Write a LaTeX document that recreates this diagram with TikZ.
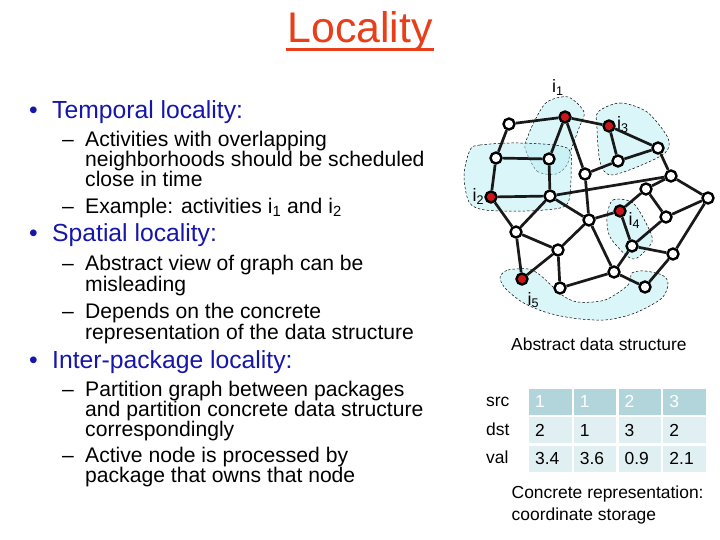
\documentclass[tikz,border=0pt]{standalone}
\usepackage{fontspec}
\setmainfont{Liberation Sans}
\usepackage{xcolor}
\usetikzlibrary{positioning}

\definecolor{titlered}{RGB}{232,62,26}
\definecolor{headblue}{RGB}{22,22,170}
\definecolor{blobcyan}{RGB}{185,238,245}
\definecolor{actred}{RGB}{205,22,28}
\definecolor{cellhead}{RGB}{178,213,220}
\definecolor{cellbody}{RGB}{224,239,241}

\begin{document}
\begin{tikzpicture}[x=1bp, y=-1bp,
  vtx/.style={circle, draw=black, line width=2.4bp, fill=white, minimum size=11bp, inner sep=0pt},
  act/.style={vtx, fill=actred},
  link/.style={line width=2.7bp, black!90},
  blob/.style={draw=black, line width=0.5bp, dash pattern=on 2.5bp off 2bp, fill=blobcyan, fill opacity=0.5},
  lbl/.style={anchor=base west, inner sep=0pt, font=\fontsize{18}{18}\selectfont},
  main/.style={anchor=base west, inner sep=0pt, text=headblue, font=\fontsize{24.8}{24.8}\selectfont},
  sub/.style={anchor=base west, inner sep=0pt, font=\fontsize{21.2}{21.2}\selectfont},
  small/.style={anchor=base west, inner sep=0pt, font=\fontsize{17.5}{17.5}\selectfont},
  cell/.style={minimum width=42.5bp, minimum height=26bp, inner xsep=6bp, text width=30.5bp, align=left, font=\fontsize{17.5}{17.5}\selectfont},
  headcell/.style={cell, fill=cellhead, text=white},
  bodycell/.style={cell, fill=cellbody}]
  \fill[white] (0,0) rectangle (720,540);
  \useasboundingbox (0,0) rectangle (720,540);

  % title
  \node[anchor=base, inner sep=0pt, text=titlered, font=\fontsize{43}{43}\selectfont] (title) at (360,43) {Locality};
  \draw[titlered, line width=2.2bp] ([xshift=-1.5bp, yshift=-6.5bp]title.base west) -- ([xshift=1.5bp, yshift=-6.5bp]title.base east);

  % bullets
  \node[main] (tmp) at (29,118.3) {\makebox[23bp][l]{\textbullet}Temporal locality:};
  \node[sub] (tmp1) at (62,146.7) {\makebox[23bp][l]{\textendash}Activities with overlapping};
  \node[sub] (tmp1b) at (85,166.7) {neighborhoods should be scheduled};
  \node[sub] (tmp1c) at (85,186.7) {close in time};
  \node[sub] (tmp2) at (62,213.3) {\makebox[23bp][l]{\textendash}Example: activities i\textsubscript{1} and i\textsubscript{2}};
  \node[main] (spa) at (29,241.7) {\makebox[23bp][l]{\textbullet}Spatial locality:};
  \node[sub] (spa1) at (62,270.7) {\makebox[23bp][l]{\textendash}Abstract view of graph can be};
  \node[sub] (spa1b) at (85,291.7) {misleading};
  \node[sub] (spa2) at (62,318.3) {\makebox[23bp][l]{\textendash}Depends on the concrete};
  \node[sub] (spa2b) at (85,339) {representation of the data structure};
  \node[main] (pkg) at (29,368.3) {\makebox[23bp][l]{\textbullet}Inter-package locality:};
  \node[sub] (pkg1) at (62,396.7) {\makebox[23bp][l]{\textendash}Partition graph between packages};
  \node[sub] (pkg1b) at (85,416) {and partition concrete data structure};
  \node[sub] (pkg1c) at (85,436) {correspondingly};
  \node[sub] (pkg2) at (62,462.7) {\makebox[23bp][l]{\textendash}Active node is processed by};
  \node[sub] (pkg2b) at (85,482.7) {package that owns that node};

  % neighborhoods
  \draw[blob] plot[smooth cycle] coordinates {(525,148) (537,171) (556,174) (567,165) (571,150) (579,128) (584,112) (568,97) (547,102) (535,120) (528,136)};
  \draw[blob] plot[smooth cycle] coordinates {(470,150) (480,145) (520,143) (567,148) (571,172) (569,200) (560,208) (527,211) (485,210) (469,202) (464,175)};
  \draw[blob] plot[smooth cycle] coordinates {(598,112) (620,103) (647,112) (668,138) (665,153) (637,167) (610,175) (600,162) (597,128)};
  \draw[blob] plot[smooth cycle] coordinates {(607,217) (613,200) (633,203) (648,227) (652,242) (637,258) (627,256) (610,237)};
  \draw[blob] plot[smooth cycle] coordinates {(500,277) (508,270) (528,269) (540,275) (562,295) (578,302) (605,300) (628,285) (632,273) (645,271) (662,275) (668,283) (662,298) (635,313) (605,320) (572,318) (545,312) (522,302) (505,288)};

  % labels of active nodes
  \node[lbl] (l1) at (552,93) {i\textsubscript{1}};
  \node[lbl] (l3) at (617,130) {i\textsubscript{3}};
  \node[lbl] (l2) at (472.5,202) {i\textsubscript{2}};
  \node[lbl] (l4) at (628.5,225.5) {i\textsubscript{4}};
  \node[lbl] (l5) at (527.5,305) {i\textsubscript{5}};

  % graph
  \node[vtx] (A) at (509,124) {};
  \node[act] (i1) at (565,117) {};
  \node[act] (i3) at (609,126) {};
  \node[vtx] (B) at (658,148) {};
  \node[vtx] (C) at (496,158) {};
  \node[vtx] (D) at (549,159) {};
  \node[vtx] (E) at (618,161) {};
  \node[vtx] (F) at (585,174) {};
  \node[vtx] (G) at (671,176) {};
  \node[vtx] (H) at (646,189) {};
  \node[vtx] (I) at (708,198) {};
  \node[act] (i2) at (491,197) {};
  \node[vtx] (J) at (550,196) {};
  \node[act] (i4) at (620,211) {};
  \node[vtx] (K) at (666,217) {};
  \node[vtx] (L) at (589,220) {};
  \node[vtx] (M) at (516,232) {};
  \node[vtx] (N) at (558,250) {};
  \node[vtx] (O) at (632,246) {};
  \node[vtx] (P) at (673,254) {};
  \node[vtx] (Q) at (614,272) {};
  \node[act] (i5) at (522,279) {};
  \node[vtx] (R) at (560,288) {};
  \node[vtx] (S) at (645,287) {};

  \foreach \u/\v in {A/i1, A/C, i1/i3, i1/D, i1/F, i3/E, i3/B, E/B, E/F, C/D, C/i2, D/J, i2/J,
                     J/G, B/G, G/H, G/I, J/M, J/L, F/L, i2/M, H/i4, H/K, K/I, K/O, O/P, P/I,
                     i4/O, L/i4, L/N, L/Q, O/Q, M/N, M/i5, N/i5, N/R, R/Q, Q/S, S/P}
    \draw[link] (\u) -- (\v);

  \node[small] (abs) at (511,350.7) {Abstract data structure};

  % coordinate storage
  \node[small] (srclab) at (486,406) {src};
  \node[small] (dstlab) at (486,435) {dst};
  \node[small] (vallab) at (486,463.3) {val};
  \foreach \v [count=\c] in {1,1,2,3}
    \node[headcell] (src\c) at ({505.5+44.8*\c},401.5) {\v};
  \foreach \v [count=\c] in {2,1,3,2}
    \node[bodycell] (dst\c) at ({505.5+44.8*\c},430) {\v};
  \foreach \v [count=\c] in {3.4,3.6,0.9,2.1}
    \node[bodycell] (val\c) at ({505.5+44.8*\c},458.5) {\v};

  \node[small] (conc1) at (511.5,498.3) {Concrete representation:};
  \node[small] (conc2) at (511.5,520) {coordinate storage};
\end{tikzpicture}
\end{document}
